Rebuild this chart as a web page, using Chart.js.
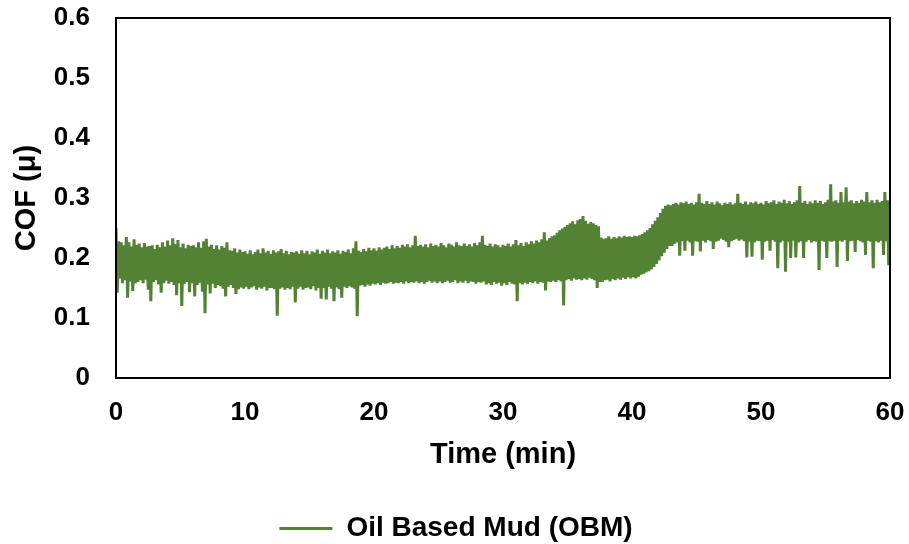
<!DOCTYPE html>
<html>
<head>
<meta charset="utf-8">
<script src="https://cdn.jsdelivr.net/npm/chart.js@4.4.1/dist/chart.umd.min.js"></script>
<style>
    html, body { margin: 0; padding: 0; background: #fff; }
    #wrap { width: 909px; height: 544px; }
</style>
</head>
<body>
<div id="wrap"><canvas id="cof-chart" width="909" height="544"></canvas></div>
<script>
    // COF readings, one every 0.1 min from 0 to 60 min (one row per minute)
    const timeStep = 0.1;
    const cofValues = [
        0.250, 0.142, 0.228, 0.166, 0.226, 0.158, 0.221, 0.163, 0.235, 0.134,
        0.226, 0.161, 0.219, 0.145, 0.231, 0.158, 0.222, 0.160, 0.224, 0.163,
        0.218, 0.158, 0.225, 0.164, 0.219, 0.147, 0.220, 0.128, 0.221, 0.160,
        0.215, 0.163, 0.222, 0.156, 0.218, 0.142, 0.226, 0.158, 0.219, 0.162,
        0.229, 0.157, 0.221, 0.160, 0.233, 0.155, 0.223, 0.138, 0.230, 0.158,
        0.218, 0.120, 0.224, 0.157, 0.216, 0.160, 0.222, 0.143, 0.220, 0.158,
        0.221, 0.136, 0.218, 0.155, 0.226, 0.159, 0.217, 0.144, 0.228, 0.108,
        0.232, 0.156, 0.219, 0.141, 0.222, 0.157, 0.215, 0.150, 0.221, 0.155,
        0.214, 0.153, 0.220, 0.149, 0.217, 0.136, 0.226, 0.152, 0.213, 0.155,
        0.212, 0.150, 0.216, 0.140, 0.209, 0.148, 0.214, 0.151, 0.210, 0.149,
        0.211, 0.152, 0.207, 0.148, 0.213, 0.151, 0.206, 0.153, 0.210, 0.147,
        0.214, 0.151, 0.208, 0.149, 0.216, 0.152, 0.209, 0.146, 0.212, 0.150,
        0.207, 0.150, 0.213, 0.148, 0.209, 0.104, 0.211, 0.149, 0.215, 0.151,
        0.208, 0.147, 0.212, 0.150, 0.206, 0.148, 0.210, 0.152, 0.209, 0.126,
        0.211, 0.149, 0.207, 0.152, 0.213, 0.147, 0.208, 0.150, 0.212, 0.151,
        0.206, 0.148, 0.211, 0.153, 0.209, 0.146, 0.214, 0.150, 0.207, 0.132,
        0.212, 0.150, 0.209, 0.131, 0.214, 0.152, 0.208, 0.149, 0.211, 0.128,
        0.209, 0.151, 0.213, 0.148, 0.207, 0.134, 0.212, 0.152, 0.210, 0.150,
        0.214, 0.153, 0.208, 0.151, 0.216, 0.149, 0.228, 0.103, 0.212, 0.154,
        0.210, 0.155, 0.215, 0.152, 0.211, 0.156, 0.217, 0.154, 0.213, 0.157,
        0.216, 0.156, 0.212, 0.158, 0.218, 0.155, 0.214, 0.159, 0.217, 0.157,
        0.219, 0.158, 0.215, 0.160, 0.221, 0.157, 0.216, 0.159, 0.220, 0.158,
        0.217, 0.160, 0.222, 0.157, 0.219, 0.161, 0.223, 0.158, 0.218, 0.160,
        0.221, 0.159, 0.237, 0.161, 0.220, 0.158, 0.222, 0.160, 0.219, 0.157,
        0.223, 0.160, 0.218, 0.162, 0.224, 0.159, 0.220, 0.161, 0.222, 0.158,
        0.219, 0.161, 0.225, 0.158, 0.221, 0.160, 0.218, 0.162, 0.224, 0.159,
        0.222, 0.160, 0.219, 0.163, 0.226, 0.158, 0.221, 0.161, 0.220, 0.159,
        0.224, 0.162, 0.220, 0.158, 0.223, 0.161, 0.219, 0.160, 0.225, 0.157,
        0.221, 0.160, 0.226, 0.159, 0.237, 0.161, 0.222, 0.156, 0.220, 0.158,
        0.224, 0.155, 0.219, 0.160, 0.223, 0.157, 0.221, 0.159, 0.218, 0.154,
        0.222, 0.158, 0.220, 0.155, 0.224, 0.160, 0.219, 0.157, 0.223, 0.156,
        0.230, 0.128, 0.221, 0.158, 0.225, 0.156, 0.220, 0.159, 0.226, 0.157,
        0.223, 0.160, 0.228, 0.158, 0.224, 0.161, 0.229, 0.157, 0.226, 0.160,
        0.231, 0.159, 0.243, 0.146, 0.229, 0.161, 0.233, 0.160, 0.236, 0.162,
        0.238, 0.160, 0.242, 0.163, 0.246, 0.161, 0.249, 0.121, 0.252, 0.163,
        0.255, 0.165, 0.258, 0.162, 0.261, 0.166, 0.256, 0.164, 0.263, 0.165,
        0.265, 0.163, 0.270, 0.166, 0.262, 0.164, 0.257, 0.167, 0.260, 0.165,
        0.258, 0.163, 0.255, 0.150, 0.253, 0.160, 0.234, 0.160, 0.232, 0.163,
        0.233, 0.164, 0.236, 0.161, 0.232, 0.165, 0.235, 0.163, 0.233, 0.166,
        0.236, 0.164, 0.234, 0.167, 0.237, 0.165, 0.235, 0.168, 0.236, 0.166,
        0.235, 0.168, 0.237, 0.166, 0.236, 0.169, 0.238, 0.172, 0.240, 0.174,
        0.243, 0.176, 0.246, 0.178, 0.250, 0.181, 0.256, 0.185, 0.262, 0.190,
        0.268, 0.196, 0.275, 0.203, 0.282, 0.209, 0.287, 0.215, 0.289, 0.220,
        0.288, 0.220, 0.290, 0.224, 0.292, 0.226, 0.289, 0.204, 0.293, 0.228,
        0.291, 0.212, 0.294, 0.229, 0.290, 0.226, 0.292, 0.204, 0.289, 0.228,
        0.293, 0.227, 0.307, 0.211, 0.292, 0.229, 0.290, 0.226, 0.295, 0.230,
        0.290, 0.228, 0.293, 0.215, 0.289, 0.227, 0.294, 0.229, 0.291, 0.232,
        0.288, 0.230, 0.292, 0.227, 0.290, 0.218, 0.293, 0.228, 0.289, 0.230,
        0.291, 0.232, 0.307, 0.229, 0.292, 0.231, 0.290, 0.228, 0.294, 0.201,
        0.289, 0.227, 0.293, 0.202, 0.291, 0.226, 0.294, 0.229, 0.290, 0.228,
        0.292, 0.197, 0.289, 0.227, 0.295, 0.229, 0.291, 0.212, 0.293, 0.230,
        0.296, 0.227, 0.290, 0.183, 0.294, 0.226, 0.292, 0.229, 0.297, 0.177,
        0.291, 0.227, 0.295, 0.200, 0.290, 0.229, 0.293, 0.201, 0.296, 0.226,
        0.320, 0.228, 0.292, 0.200, 0.295, 0.227, 0.290, 0.230, 0.294, 0.226,
        0.291, 0.228, 0.296, 0.227, 0.292, 0.180, 0.295, 0.229, 0.290, 0.227,
        0.293, 0.200, 0.297, 0.228, 0.323, 0.227, 0.294, 0.229, 0.296, 0.185,
        0.292, 0.229, 0.310, 0.227, 0.293, 0.230, 0.318, 0.195, 0.294, 0.228,
        0.296, 0.229, 0.291, 0.210, 0.295, 0.230, 0.292, 0.228, 0.297, 0.226,
        0.294, 0.205, 0.310, 0.229, 0.293, 0.227, 0.296, 0.183, 0.292, 0.228,
        0.297, 0.226, 0.293, 0.229, 0.295, 0.205, 0.310, 0.228, 0.296, 0.188,
        0.280
    ];
    const seriesName = "Oil Based Mud (OBM)";
    const xTitle = "Time (min)";
    const yTitle = "COF (\u03bc)";

    const points = cofValues.map(function (v, i) {
        return { x: +(i * timeStep).toFixed(1), y: v };
    });

    const fontFamily = "'Liberation Sans', Arial, sans-serif";

    // box round the plot area
    const frame = {
        id: 'frame',
        afterDraw: function (chart) {
            const a = chart.chartArea;
            const c = chart.ctx;
            c.save();
            c.strokeStyle = '#000';
            c.lineWidth = 2;
            c.strokeRect(a.left, a.top, a.right - a.left, a.bottom - a.top);
            c.restore();
        }
    };

    // nudge the legend a little right of the canvas centre
    const legendShift = {
        id: 'legendShift',
        afterLayout: function (chart) {
            if (chart.legend) {
                chart.legend.left += 11;
                chart.legend.right += 11;
            }
        }
    };

    const ctx = document.getElementById('cof-chart').getContext('2d');
    const cofChart = new Chart(ctx, {
        type: 'line',
        data: {
            datasets: [{
                label: seriesName,
                data: points,
                borderColor: '#548235',
                backgroundColor: '#548235',
                borderWidth: 3,
                pointRadius: 0,
                tension: 0,
                fill: false
            }]
        },
        options: {
            responsive: false,
            animation: false,
            layout: { padding: { top: 18, right: 19, bottom: -8.5, left: 0 } },
            plugins: {
                tooltip: { enabled: false },
                legend: {
                    position: 'bottom',
                    labels: {
                        usePointStyle: true,
                        pointStyle: 'line',
                        pointStyleWidth: 53,
                        padding: 2,
                        color: '#000',
                        font: { family: fontFamily, size: 28, weight: 'bold', lineHeight: 1 }
                    }
                }
            },
            scales: {
                x: {
                    type: 'linear',
                    min: 0,
                    max: 60,
                    grid: { display: false, drawTicks: false },
                    border: { display: false },
                    ticks: {
                        stepSize: 10,
                        padding: 19,
                        maxRotation: 0,
                        color: '#000',
                        font: { family: fontFamily, size: 26, weight: 'bold' }
                    },
                    title: {
                        display: true,
                        text: xTitle,
                        color: '#000',
                        padding: { top: 4, bottom: 40 },
                        font: { family: fontFamily, size: 29, weight: 'bold' }
                    },
                    afterFit: function (scale) {
                        scale.height = 134.5;
                        scale.paddingLeft = 0;
                        scale.paddingRight = 0;
                    }
                },
                y: {
                    min: 0,
                    max: 0.6,
                    grid: { display: false, drawTicks: false },
                    border: { display: false },
                    ticks: {
                        stepSize: 0.1,
                        padding: 26,
                        color: '#000',
                        font: { family: fontFamily, size: 26, weight: 'bold' },
                        callback: function (v) { return v === 0 ? '0' : v.toFixed(1); }
                    },
                    title: {
                        display: true,
                        text: yTitle,
                        color: '#000',
                        padding: { top: 10, bottom: 0 },
                        font: { family: fontFamily, size: 29, weight: 'bold' }
                    },
                    afterFit: function (scale) {
                        scale.width = 116;
                        scale.paddingTop = 0;
                        scale.paddingBottom = 0;
                    }
                }
            }
        },
        plugins: [frame, legendShift]
    });
</script>
</body>
</html>
